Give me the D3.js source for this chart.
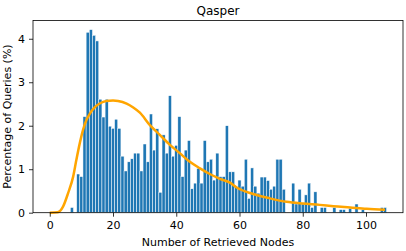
<!DOCTYPE html>
<html>
<head>
<meta charset="utf-8">
<title>Qasper</title>
<script src="https://cdn.jsdelivr.net/npm/d3@7"></script>
<style>
  body { margin: 0; background: #fff; }
  text { font-family: "DejaVu Sans", sans-serif; fill: #000; }
</style>
</head>
<body>
<div id="chart"></div>
<script>
// histogram: number of retrieved nodes -> percentage of queries
var nodes = d3.range(7, 107);
var pct = [
  0.12, 0, 0.89, 0.83, 2.21, 4.15, 4.21, 4.08, 3.95,            // 7-15
  2.61, 2.2, 2.61, 1.99, 1.94, 2.15, 1.94, 1.30, 0.96, 1.17,    // 16-25
  1.24, 1.37, 1.37, 0.96, 1.58, 1.17, 2.27, 1.44, 1.93, 0.47,   // 26-35
  1.79, 1.37, 2.69, 1.30, 1.55, 2.21, 0.83, 1.44, 1.66, 0.55,   // 36-45
  0.68, 1.02, 0.68, 1.66, 1.17, 1.23, 0.75, 1.37, 0.83, 0.83,   // 46-55
  2.0, 0.94, 0.94, 0.6, 0.75, 0.61, 1.23, 0.33, 1.03, 0.61,     // 56-65
  0.45, 0.82, 0.82, 0.74, 0.54, 0.61, 1.23, 1.23, 0.54, 0,      // 66-75
  0, 0.68, 0.2, 0.54, 0.2, 0.41, 0.68, 0.12, 0.48, 0,           // 76-85
  0.12, 0.12, 0, 0, 0.12, 0, 0.07, 0.07, 0, 0.1,                // 86-95
  0, 0.2, 0, 0.07, 0, 0, 0, 0, 0, 0.12,                         // 96-105
  0.12                                                          // 106
];

// density curve
var curveX = [0, 2.5, 4.2, 5.8, 7.4, 8.4, 9.5, 10.5, 11.6, 12.7, 14.2, 15.8, 17.9, 20, 21.6,
  24.3, 26.4, 28.5, 31.6, 34.8, 38, 41.1, 44.3, 47.5, 50.6, 53.8, 57, 59.1, 64.3, 69.6,
  74.9, 80, 85.4, 89.7, 95, 100.2, 106];
var curveY = [0, 0.01, 0.14, 0.45, 0.83, 1.21, 1.6, 1.9, 2.13, 2.28, 2.42, 2.51, 2.57, 2.58, 2.57,
  2.51, 2.42, 2.3, 2.02, 1.79, 1.56, 1.37, 1.17, 1.02, 0.89, 0.78, 0.69, 0.58, 0.43, 0.33,
  0.25, 0.21, 0.18, 0.15, 0.12, 0.09, 0.07];

var xTicks = [0, 20, 40, 60, 80, 100];
var yTicks = [0, 1, 2, 3, 4];

var W = 406, H = 251;
var mLeft = 33, mRight = 403, mTop = 20.5, mBottom = 212.7;

var x = d3.scaleLinear().domain([-5.3, 111.7]).range([mLeft, mRight]);
var y = d3.scaleLinear().domain([0, 4.42]).range([mBottom, mTop]);

var svg = d3.select('#chart').append('svg')
  .attr('width', W).attr('height', H);

var bars = nodes.map(function(n, i){ return { n: n, v: pct[i] }; })
  .filter(function(d){ return d.v > 0; });

svg.append('g').selectAll('rect')
  .data(bars)
  .enter().append('rect')
  .attr('x', function(d){ return x(d.n - 0.5); })
  .attr('width', function(d){ return x(d.n + 0.5) - x(d.n - 0.5); })
  .attr('y', function(d){ return y(d.v); })
  .attr('height', function(d){ return y(0) - y(d.v); })
  .style('fill', '#1f77b4')
  .style('stroke', '#fff')
  .style('stroke-width', 0.5);

var line = d3.line()
  .x(function(d){ return x(d[0]); })
  .y(function(d){ return y(d[1]); })
  .curve(d3.curveMonotoneX);

svg.append('path')
  .datum(curveX.map(function(v, i){ return [v, curveY[i]]; }))
  .attr('d', line)
  .style('fill', 'none')
  .style('stroke', 'orange')
  .style('stroke-width', 2.5);

// axes
var xAxis = d3.axisBottom(x).tickValues(xTicks).tickSize(4).tickPadding(4.5)
  .tickFormat(d3.format('d'));
var yAxis = d3.axisLeft(y).tickValues(yTicks).tickSize(4).tickPadding(4)
  .tickFormat(d3.format('d'));

var gx = svg.append('g').attr('transform', 'translate(0,' + mBottom + ')').call(xAxis);
var gy = svg.append('g').attr('transform', 'translate(' + mLeft + ',0)').call(yAxis);
[gx, gy].forEach(function(g){
  g.select('.domain').remove();
  g.selectAll('text').style('font-size', '11px').style('font-family', 'DejaVu Sans');
  g.selectAll('line').style('stroke', '#000').style('stroke-width', 0.8);
});

svg.append('rect')
  .attr('x', mLeft).attr('y', mTop)
  .attr('width', mRight - mLeft).attr('height', mBottom - mTop)
  .style('fill', 'none').style('stroke', '#000').style('stroke-width', 0.8);

svg.append('text')
  .attr('x', (mLeft + mRight) / 2).attr('y', 15)
  .attr('text-anchor', 'middle')
  .style('font-size', '12px')
  .text('Qasper');

svg.append('text')
  .attr('x', (mLeft + mRight) / 2).attr('y', 245.5)
  .attr('text-anchor', 'middle')
  .style('font-size', '11px')
  .text('Number of Retrieved Nodes');

svg.append('text')
  .attr('transform', 'translate(10.5,' + (mTop + mBottom) / 2 + ') rotate(-90)')
  .attr('text-anchor', 'middle')
  .style('font-size', '11px')
  .text('Percentage of Queries (%)');
</script>
</body>
</html>
